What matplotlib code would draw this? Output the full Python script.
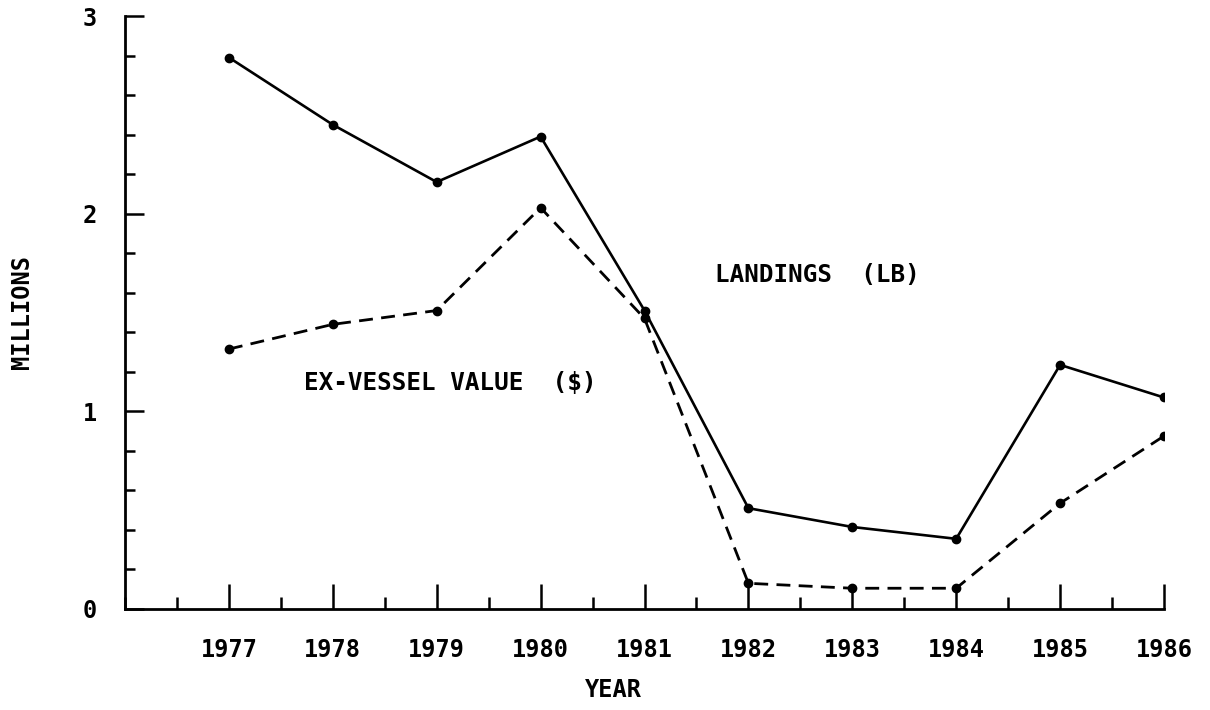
import matplotlib
matplotlib.use("Agg")
import matplotlib.pyplot as plt
from matplotlib.ticker import MultipleLocator

years = [1977, 1978, 1979, 1980, 1981, 1982, 1983, 1984, 1985, 1986]
landings = [2.79, 2.45, 2.16, 2.39, 1.51, 0.51, 0.415, 0.355, 1.235, 1.07]
exvessel = [1.315, 1.44, 1.51, 2.03, 1.47, 0.13, 0.105, 0.105, 0.535, 0.875]
y_ticks = [0, 1, 2, 3]
x_labels = [str(y) for y in years]

FONT = "DejaVu Sans Mono"

fig = plt.figure(figsize=(12.1, 7.1), dpi=100)
W, H = 1210, 710
ax = fig.add_axes([125 / W, (H - 609) / H, (1164 - 125) / W, (609 - 16) / H])

ax.plot(years, landings, color="black", lw=1.9, marker="o", ms=6, solid_joinstyle="round")
ax.plot(years, exvessel, color="black", lw=2.0, marker="o", ms=6, dashes=[5.0, 3.0])

ax.set_xlim(1976, 1986)
ax.set_ylim(0, 3)
for s in ["top", "right"]:
    ax.spines[s].set_visible(False)
for s in ["left", "bottom"]:
    ax.spines[s].set_linewidth(2.0)

ax.set_xticks(years)
ax.set_xticklabels(x_labels)
ax.xaxis.set_minor_locator(MultipleLocator(0.5))
ax.set_yticks(y_ticks)
ax.yaxis.set_minor_locator(MultipleLocator(0.2))

ax.tick_params(axis="x", which="major", direction="in", length=18, width=1.8, pad=21)
ax.tick_params(axis="x", which="minor", direction="in", length=9, width=1.8)
ax.tick_params(axis="y", which="major", direction="in", length=14, width=1.8, pad=20)
ax.tick_params(axis="y", which="minor", direction="in", length=7, width=1.8)

for lab in ax.get_xticklabels() + ax.get_yticklabels():
    lab.set_fontfamily(FONT)
    lab.set_fontweight("bold")
    lab.set_fontsize(17)

fig.text(22 / W, 1 - 312 / H, "MILLIONS", rotation=90, ha="center", va="center",
         fontfamily=FONT, fontweight="bold", fontsize=17)
fig.text(613 / W, 1 - 690 / H, "YEAR", ha="center", va="center",
         fontfamily=FONT, fontweight="bold", fontsize=17)
fig.text(817 / W, 1 - 275 / H, "LANDINGS  (LB)", ha="center", va="center",
         fontfamily=FONT, fontweight="bold", fontsize=17.5)
fig.text(450 / W, 1 - 383 / H, "EX-VESSEL VALUE  ($)", ha="center", va="center",
         fontfamily=FONT, fontweight="bold", fontsize=17.5)

fig.savefig("out.png", dpi=100, facecolor="white")
